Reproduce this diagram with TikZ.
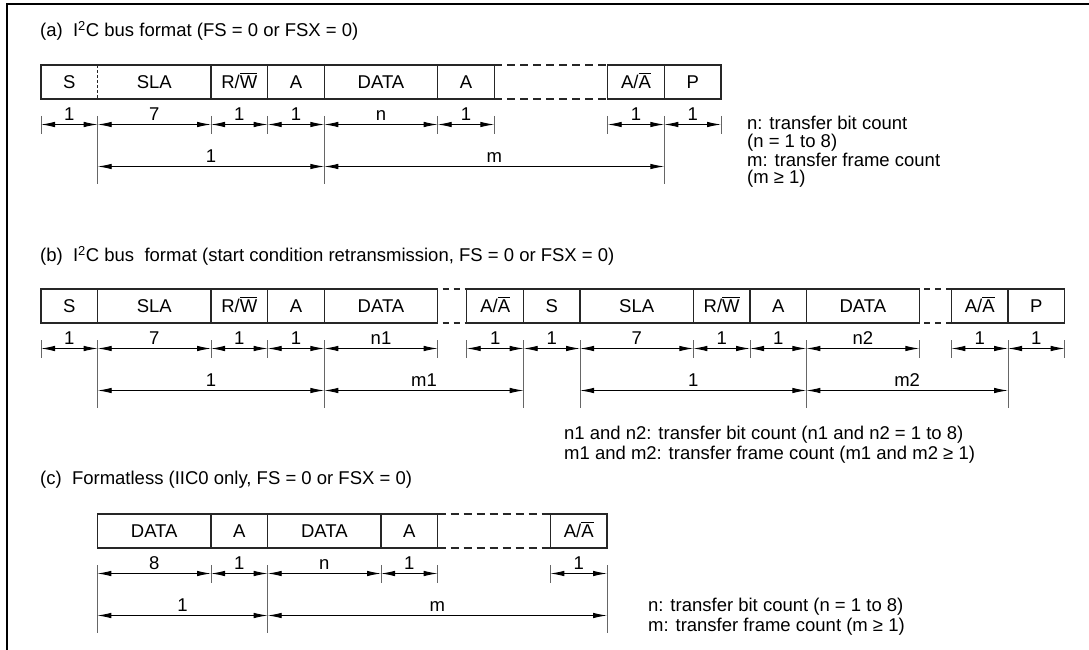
\documentclass[tikz,border=0pt]{standalone}
\usepackage{fontspec}
\setmainfont{Liberation Sans}
\usetikzlibrary{arrows.meta}
\newcommand\myovl[1]{\setbox0\hbox{#1}\rlap{\rule[14.6pt]{\wd0}{1.1pt}}\box0}
\begin{document}
\begin{tikzpicture}[x=1pt,y=-1pt,
  txt/.style={font=\fontsize{18.5}{21}\selectfont, inner sep=0pt, anchor=base},
  lbl/.style={txt, anchor=base west},
  cellbox/.style={line width=1.4pt, draw=black!85},
  gapline/.style={cellbox, dash pattern=on 8pt off 5pt},
  shortgap/.style={cellbox, dash pattern=on 6pt off 5pt, dash phase=6pt},
  dimline/.style={line width=0.9pt, {Latex[length=14pt,width=5.5pt]}-{Latex[length=14pt,width=5.5pt]}},
  tickline/.style={line width=1pt, draw=black!60},
]
\useasboundingbox (0,0) rectangle (1089,650);
\draw[line width=2.5pt] (7,650) -- (7,4) -- (1089,4);

% ---------------- (a) ----------------
\node[lbl] (ta) at (40,36.5) {(a)\ \ I\textsuperscript{2}C bus format (FS = 0 or FSX = 0)};
\draw[cellbox] (97.7,65) -- (41,65) -- (41,99) -- (97.7,99);
\draw[cellbox, dash pattern=on 3pt off 2pt] (97.7,65) -- (97.7,99);
\draw[cellbox] (97.7,65) -- (494.3,65) (97.7,99) -- (494.3,99);
\foreach \x in {211,267.7,324.3,437.7,494.3} \draw[cellbox] (\x,65) -- (\x,99);
\draw[gapline] (494.3,65) -- (607.7,65) (494.3,99) -- (607.7,99);
\draw[cellbox] (607.7,65) rectangle (721,99) (664.3,65) -- (664.3,99);
\node[txt] (a1) at (69.3,88.5) {S};
\node[txt] (a2) at (154.3,88.5) {SLA};
\node[txt] (a3) at (239.3,88.5) {R/\myovl{W}};
\node[txt] (a4) at (296,88.5) {A};
\node[txt] (a5) at (381,88.5) {DATA};
\node[txt] (a6) at (466,88.5) {A};
\node[txt] (a7) at (636,88.5) {A/\myovl{A}};
\node[txt] (a8) at (692.7,88.5) {P};
\foreach \x in {41,211,267.7,437.7,494.3,607.7,721} \draw[tickline] (\x,116) -- (\x,134);
\foreach \x in {97.7,324.3,664.3} \draw[tickline] (\x,116) -- (\x,184);
\foreach \a/\b/\l [count=\i] in {41/97.7/1, 97.7/211/7, 211/267.7/1, 267.7/324.3/1, 324.3/437.7/n, 437.7/494.3/1, 607.7/664.3/1, 664.3/721/1}
  \draw[dimline] (\a,124.5) -- node[txt, yshift=4pt] (da\i) {\l} (\b,124.5);
\foreach \a/\b/\l [count=\i] in {97.7/324.3/1, 324.3/664.3/m}
  \draw[dimline] (\a,166.5) -- node[txt, yshift=4pt] (ea\i) {\l} (\b,166.5);
\node[lbl] (na1) at (747,130) {n: transfer bit count};
\node[lbl] (na2) at (747,147) {(n = 1 to 8)};
\node[lbl] (na3) at (747,166) {m: transfer frame count};
\node[lbl] (na4) at (747,183.5) {(m ≥ 1)};

% ---------------- (b) ----------------
\node[lbl] (tb) at (40,261.5) {(b)\ \ I\textsuperscript{2}C bus\ \ format (start condition retransmission, FS = 0 or FSX = 0)};
\draw[cellbox] (41,289) rectangle (437.7,323);
\foreach \x in {97.7,211,267.7,324.3} \draw[cellbox] (\x,289) -- (\x,323);
\draw[shortgap] (437.7,289) -- (466.7,289) (437.7,323) -- (466.7,323);
\draw[cellbox] (466.7,289) rectangle (919.3,323);
\foreach \x in {523.7,580,693.3,750,806.3} \draw[cellbox] (\x,289) -- (\x,323);
\draw[shortgap] (919.3,289) -- (951.3,289) (919.3,323) -- (951.3,323);
\draw[cellbox] (951.3,289) rectangle (1064.7,323) (1008,289) -- (1008,323);
\node[txt] (b1) at (69.3,312.5) {S};
\node[txt] (b2) at (154.3,312.5) {SLA};
\node[txt] (b3) at (239.3,312.5) {R/\myovl{W}};
\node[txt] (b4) at (296,312.5) {A};
\node[txt] (b5) at (381,312.5) {DATA};
\node[txt] (b6) at (495.2,312.5) {A/\myovl{A}};
\node[txt] (b7) at (551.8,312.5) {S};
\node[txt] (b8) at (636.7,312.5) {SLA};
\node[txt] (b9) at (721.7,312.5) {R/\myovl{W}};
\node[txt] (b10) at (778.2,312.5) {A};
\node[txt] (b11) at (862.8,312.5) {DATA};
\node[txt] (b12) at (979.7,312.5) {A/\myovl{A}};
\node[txt] (b13) at (1036.3,312.5) {P};
\foreach \x in {41,211,267.7,437.7,466.7,693.3,750,919.3,951.3,1064.7} \draw[tickline] (\x,340) -- (\x,358);
\foreach \x in {97.7,324.3,523.7,580,806.3,1008} \draw[tickline] (\x,340) -- (\x,408);
\foreach \a/\b/\l [count=\i] in {41/97.7/1, 97.7/211/7, 211/267.7/1, 267.7/324.3/1, 324.3/437.7/n1, 466.7/523.7/1, 523.7/580/1, 580/693.3/7, 693.3/750/1, 750/806.3/1, 806.3/919.3/n2, 951.3/1008/1, 1008/1064.7/1}
  \draw[dimline] (\a,348.5) -- node[txt, yshift=4pt] (db\i) {\l} (\b,348.5);
\foreach \a/\b/\l [count=\i] in {97.7/324.3/1, 324.3/523.7/m1, 580/806.3/1, 806.3/1008/m2}
  \draw[dimline] (\a,390.5) -- node[txt, yshift=4pt] (eb\i) {\l} (\b,390.5);
\node[lbl] (nb1) at (564,439) {n1 and n2: transfer bit count (n1 and n2 = 1 to 8)};
\node[lbl] (nb2) at (564,459.5) {m1 and m2: transfer frame count (m1 and m2 ≥ 1)};

% ---------------- (c) ----------------
\node[lbl] (tc) at (40,484.5) {(c)\ \ Formatless (IIC0 only, FS = 0 or FSX = 0)};
\draw[cellbox] (437.7,514) -- (97.3,514) -- (97.3,548) -- (437.7,548);
\foreach \x in {211,267.7,381,437.7} \draw[cellbox] (\x,514) -- (\x,548);
\draw[gapline] (437.7,514) -- (550.3,514) (437.7,548) -- (550.3,548);
\draw[cellbox] (550.3,514) rectangle (607,548);
\node[txt] (c1) at (154.2,537.5) {DATA};
\node[txt] (c2) at (239.3,537.5) {A};
\node[txt] (c3) at (324.3,537.5) {DATA};
\node[txt] (c4) at (409.3,537.5) {A};
\node[txt] (c5) at (578.7,537.5) {A/\myovl{A}};
\foreach \x in {211,381,437.7,550.3} \draw[tickline] (\x,565) -- (\x,583);
\foreach \x in {97.3,267.7,607} \draw[tickline] (\x,565) -- (\x,633);
\foreach \a/\b/\l [count=\i] in {97.3/211/8, 211/267.7/1, 267.7/381/n, 381/437.7/1, 550.3/607/1}
  \draw[dimline] (\a,573.5) -- node[txt, yshift=4pt] (dc\i) {\l} (\b,573.5);
\foreach \a/\b/\l [count=\i] in {97.3/267.7/1, 267.7/607/m}
  \draw[dimline] (\a,615.5) -- node[txt, yshift=4pt] (ec\i) {\l} (\b,615.5);
\node[lbl] (nc1) at (648,611) {n: transfer bit count (n = 1 to 8)};
\node[lbl] (nc2) at (648,631) {m: transfer frame count (m ≥ 1)};
\end{tikzpicture}
\end{document}
